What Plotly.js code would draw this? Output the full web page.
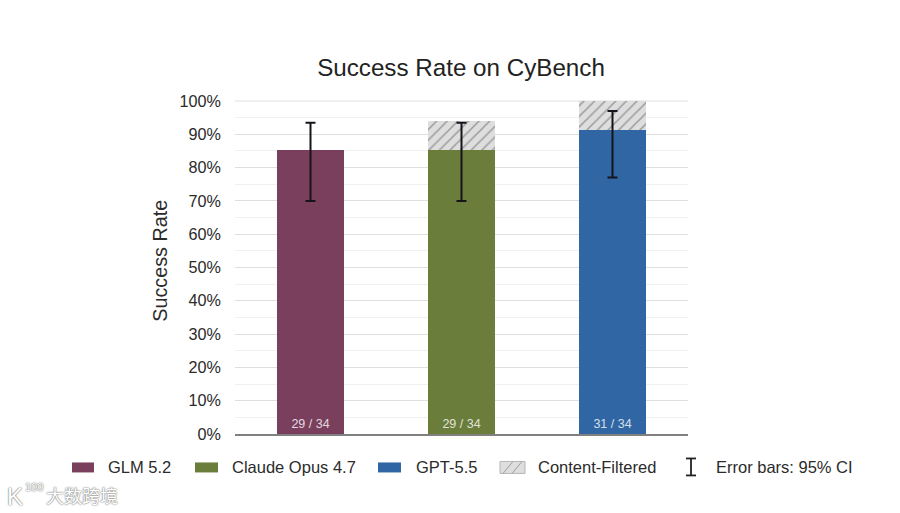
<!DOCTYPE html>
<html>
<head>
<meta charset="utf-8">
<script src="https://cdn.plot.ly/plotly-3.0.1.min.js"></script>
<style>
  html, body { margin: 0; padding: 0; background: #fff; }
  #chart { width: 900px; height: 513px; }
</style>
</head>
<body>
<div id="chart"></div>
<script>
'use strict';

var models = ['GLM 5.2', 'Claude Opus 4.7', 'GPT-5.5'];
var successRate = [85.3, 85.3, 91.2];
var filteredRate = [0, 8.8, 8.8];
var errorPlus = [8.2, 8.2, 5.8];
var errorMinus = [15.3, 15.3, 14.2];
var countLabels = ['29 / 34', '29 / 34', '31 / 34'];
var barColors = ['#7b3f5e', '#6b7d3b', '#2f66a3'];
var yTicks = [0, 10, 20, 30, 40, 50, 60, 70, 80, 90, 100];
var yTickLabels = yTicks.map(function(v) { return v + '%'; });

var FONT = 'Liberation Sans, Arial, sans-serif';
var W = 900, H = 513;
var PLOT = { left: 235, right: 688, top: 100, bottom: 434.5 };

var success = {
	type: 'bar',
	x: models,
	y: successRate,
	width: 0.45,
	marker: { color: barColors, line: { width: 0 } },
	text: countLabels,
	textposition: 'inside',
	insidetextanchor: 'start',
	textangle: 0,
	constraintext: 'none',
	textfont: { family: FONT, size: 12.5, color: 'rgba(255,255,255,0.8)' },
	hoverinfo: 'skip'
};

var filtered = {
	type: 'bar',
	x: models,
	y: filteredRate,
	width: 0.45,
	marker: {
		color: '#dcdcdc',
		line: { width: 0 },
		pattern: { shape: '/', bgcolor: '#dedede', fgcolor: '#9a9a9a', size: 7.5, solidity: 0.2 }
	},
	hoverinfo: 'skip'
};

// separate trace so the whiskers stay on top of the hatched part
var whiskers = {
	type: 'scatter',
	mode: 'markers',
	x: models,
	y: successRate,
	marker: { size: 1, opacity: 0 },
	error_y: {
		type: 'data',
		symmetric: false,
		array: errorPlus,
		arrayminus: errorMinus,
		color: '#14141a',
		thickness: 2,
		width: 5
	},
	hoverinfo: 'skip'
};

// legend is hand placed, the gaps of the original do not fit the built in one
// paper coords run over the plot area, so convert from picture pixels
function px(x) { return (x - PLOT.left) / (PLOT.right - PLOT.left); }
function py(y) { return (PLOT.bottom - y) / (PLOT.bottom - PLOT.top); }

function box(x0, y0, x1, y1, fill, line) {
	return {
		type: 'rect', xref: 'paper', yref: 'paper', layer: 'above',
		x0: px(x0), x1: px(x1), y0: py(y0), y1: py(y1),
		fillcolor: fill, line: line || { width: 0 }
	};
}

function seg(x0, y0, x1, y1, color, width) {
	return {
		type: 'line', xref: 'paper', yref: 'paper', layer: 'above',
		x0: px(x0), x1: px(x1), y0: py(y0), y1: py(y1),
		line: { color: color, width: width }
	};
}

function legendText(x, text) {
	return {
		xref: 'paper', yref: 'paper', x: px(x), y: py(468),
		xanchor: 'left', yanchor: 'middle', showarrow: false,
		xshift: -2,
		text: text, font: { family: FONT, size: 16.5, color: '#2b2b2b' }
	};
}

function watermark(x, y, text, family, size) {
	return {
		xref: 'paper', yref: 'paper', x: px(x), y: py(y),
		xanchor: 'left', yanchor: 'middle', showarrow: false,
		text: text,
		font: { family: family, size: size, color: '#ffffff', shadow: '0 0 2px #777, 0 0 1px #777' }
	};
}

var shapes = [
	// top gridline, plotly does not draw it at the end of the range
	{
		type: 'line', xref: 'paper', yref: 'y', layer: 'below',
		x0: 0, x1: 1, y0: 100, y1: 100,
		line: { color: '#dfdfdf', width: 1 }
	},
	box(72, 463, 94, 473, barColors[0]),
	box(195, 463, 218, 473, barColors[1]),
	box(378, 463, 401, 473, barColors[2]),
	box(500, 462, 525, 474, '#dedede', { color: '#b5b5b5', width: 1 }),
	seg(503, 474, 513, 462, '#9e9e9e', 1),
	seg(512, 474, 522, 462, '#9e9e9e', 1),
	seg(691, 459, 691, 476, '#222', 1.8),
	seg(686, 459, 696, 459, '#222', 1.8),
	seg(686, 476, 696, 476, '#222', 1.8)
];

var annotations = [
	legendText(108, models[0]),
	legendText(232, models[1]),
	legendText(416, models[2]),
	legendText(538, 'Content-Filtered'),
	legendText(716, 'Error bars: 95% CI'),
	{
		xref: 'paper', yref: 'paper', x: px(160), y: py(261),
		xanchor: 'center', yanchor: 'middle', showarrow: false,
		textangle: -90,
		text: 'Success Rate',
		font: { family: FONT, size: 19.8, color: '#2b2b2b' }
	},
	watermark(5, 497, 'K', FONT, 24),
	watermark(23, 488, '100', FONT, 11),
	watermark(44, 496, '大数跨境', 'Noto Sans CJK SC', 18)
];

var layout = {
	width: W,
	height: H,
	autosize: false,
	paper_bgcolor: '#ffffff',
	plot_bgcolor: '#ffffff',
	barmode: 'stack',
	showlegend: false,
	margin: { l: PLOT.left, r: W - PLOT.right, t: PLOT.top, b: H - PLOT.bottom, pad: 0 },
	title: {
		text: 'Success Rate on CyBench',
		font: { family: FONT, size: 24.2, color: '#222222' },
		x: 461 / W, xanchor: 'center',
		y: 1 - 68 / H, yanchor: 'middle'
	},
	xaxis: {
		showticklabels: false,
		ticks: '',
		showgrid: false,
		showline: true,
		linecolor: '#808080',
		linewidth: 2,
		zeroline: false,
		fixedrange: true
	},
	yaxis: {
		// a hair above 100 so the line at 100 is not cut by the plot clip
		range: [0, 100.3],
		tickvals: yTicks,
		ticktext: yTickLabels,
		ticks: '',
		showline: false,
		zeroline: false,
		gridcolor: '#dfdfdf',
		gridwidth: 1,
		minor: { dtick: 5, showgrid: true, gridcolor: '#f0f0f0', gridwidth: 1 },
		tickfont: { family: FONT, size: 16.2, color: '#2b2b2b' },
		ticklabelstandoff: 13,
		fixedrange: true
	},
	shapes: shapes,
	annotations: annotations
};

Plotly.newPlot('chart', [success, filtered, whiskers], layout, { displayModeBar: false, staticPlot: true });
</script>
</body>
</html>
